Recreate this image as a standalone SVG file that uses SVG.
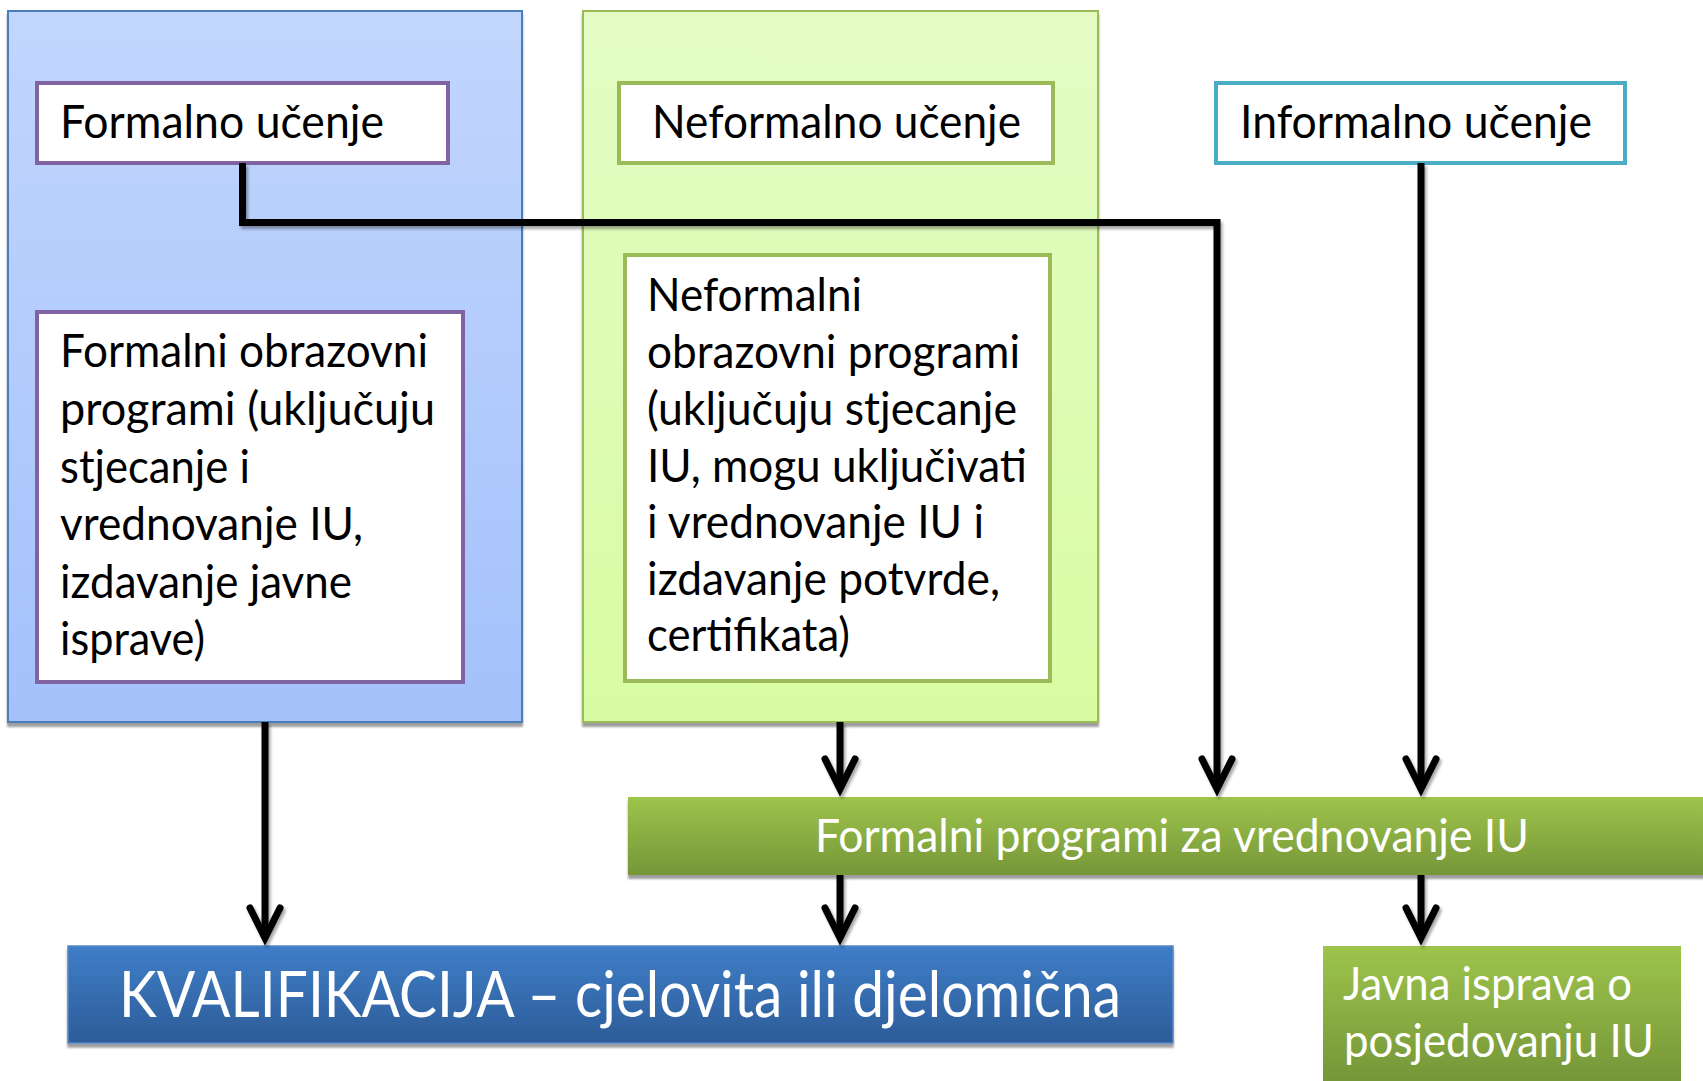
<svg xmlns="http://www.w3.org/2000/svg" width="1703" height="1081" viewBox="0 0 1703 1081">
  <defs>
    <linearGradient id="gBluePanel" x1="0" y1="0" x2="0" y2="1">
      <stop offset="0" stop-color="#C2D6FD"/>
      <stop offset="1" stop-color="#A3C1FB"/>
    </linearGradient>
    <linearGradient id="gGreenPanel" x1="0" y1="0" x2="0" y2="1">
      <stop offset="0" stop-color="#E4FCC4"/>
      <stop offset="1" stop-color="#D8FCA2"/>
    </linearGradient>
    <linearGradient id="gGreenBar" x1="0" y1="0" x2="0" y2="1">
      <stop offset="0" stop-color="#9DC44C"/>
      <stop offset="1" stop-color="#769638"/>
    </linearGradient>
    <linearGradient id="gGreenBox" x1="0" y1="946" x2="0" y2="1081" gradientUnits="userSpaceOnUse">
      <stop offset="0" stop-color="#9DC44C"/>
      <stop offset="1" stop-color="#769638"/>
    </linearGradient>
    <linearGradient id="gBlueBar" x1="0" y1="0" x2="0" y2="1">
      <stop offset="0" stop-color="#3F7EC8"/>
      <stop offset="1" stop-color="#2D5C98"/>
    </linearGradient>
    <filter id="boxShadow" x="-5%" y="-5%" width="110%" height="120%">
      <feDropShadow dx="0" dy="4" stdDeviation="1" flood-color="#000" flood-opacity="0.38"/>
    </filter>
    <filter id="lineShadow" x="-20%" y="-5%" width="140%" height="115%">
      <feDropShadow dx="2" dy="3" stdDeviation="1.5" flood-color="#000" flood-opacity="0.35"/>
    </filter>
    <marker id="arrow" markerUnits="userSpaceOnUse" orient="auto" refX="0" refY="0" markerWidth="60" markerHeight="60" overflow="visible">
      <path d="M-30,-15 L0,0 L-30,15" fill="none" stroke="#000" stroke-width="7" stroke-linecap="round" stroke-linejoin="miter" stroke-miterlimit="10"/>
    </marker>
  </defs>
  <style>
    .panel { stroke-width: 2; }
    .box { fill: #FFFFFF; stroke-width: 4; }
    .t { font-family: Lato, "Liberation Sans", sans-serif; font-size: 46px; fill: #000; }
    .tw { font-family: Lato, "Liberation Sans", sans-serif; font-size: 46px; fill: #FFFFFF; }
    .conn { fill: none; stroke: #000; stroke-width: 7; stroke-linejoin: miter; }
  </style>

  <rect width="1703" height="1081" fill="#FFFFFF"/>

  <g id="panel-formal">
    <rect class="panel" x="8" y="11" width="514" height="711" fill="url(#gBluePanel)" stroke="#4A7EBB" filter="url(#boxShadow)"/>
  </g>
  <g id="panel-neformal">
    <rect class="panel" x="583" y="11" width="515" height="711" fill="url(#gGreenPanel)" stroke="#9BBB59" filter="url(#boxShadow)"/>
  </g>

  <g id="formalno-ucenje">
    <rect class="box" x="37" y="83" width="411" height="80" stroke="#8064A2"/>
    <text class="t" x="60" y="138" textLength="324" lengthAdjust="spacingAndGlyphs">Formalno učenje</text>
  </g>

  <g id="neformalno-ucenje">
    <rect class="box" x="619" y="83" width="434" height="80" stroke="#9BBB59"/>
    <text class="t" x="652" y="138" textLength="369" lengthAdjust="spacingAndGlyphs">Neformalno učenje</text>
  </g>

  <g id="informalno-ucenje">
    <rect class="box" x="1216" y="83" width="409" height="80" stroke="#4BACC6"/>
    <text class="t" x="1240" y="138" textLength="352" lengthAdjust="spacingAndGlyphs">Informalno učenje</text>
  </g>

  <g id="formalni-programi">
    <rect class="box" x="37" y="312" width="426" height="370" stroke="#8064A2"/>
    <text class="t" x="60" y="367" textLength="368" lengthAdjust="spacingAndGlyphs">Formalni obrazovni</text>
    <text class="t" x="60" y="425" textLength="375" lengthAdjust="spacingAndGlyphs">programi (uključuju</text>
    <text class="t" x="60" y="483" textLength="190" lengthAdjust="spacingAndGlyphs">stjecanje i</text>
    <text class="t" x="60" y="540" textLength="303" lengthAdjust="spacingAndGlyphs">vrednovanje IU,</text>
    <text class="t" x="60" y="598" textLength="292" lengthAdjust="spacingAndGlyphs">izdavanje javne</text>
    <text class="t" x="60" y="655" textLength="145" lengthAdjust="spacingAndGlyphs">isprave)</text>
  </g>

  <g id="neformalni-programi">
    <rect class="box" x="625" y="255" width="425" height="426" stroke="#9BBB59"/>
    <text class="t" x="647" y="311" textLength="215" lengthAdjust="spacingAndGlyphs">Neformalni</text>
    <text class="t" x="647" y="368" textLength="373" lengthAdjust="spacingAndGlyphs">obrazovni programi</text>
    <text class="t" x="647" y="425" textLength="370" lengthAdjust="spacingAndGlyphs">(uključuju stjecanje</text>
    <text class="t" x="647" y="482" textLength="380" lengthAdjust="spacingAndGlyphs">IU, mogu uključivati</text>
    <text class="t" x="647" y="538" textLength="337" lengthAdjust="spacingAndGlyphs">i vrednovanje IU i</text>
    <text class="t" x="647" y="595" textLength="353" lengthAdjust="spacingAndGlyphs">izdavanje potvrde,</text>
    <text class="t" x="647" y="651" textLength="203" lengthAdjust="spacingAndGlyphs">certifikata)</text>
  </g>

  <g id="formalni-programi-vrednovanje">
    <rect x="628" y="797" width="1090" height="78" fill="url(#gGreenBar)" filter="url(#boxShadow)"/>
    <text class="tw" x="815" y="852" textLength="714" lengthAdjust="spacingAndGlyphs">Formalni programi za vrednovanje IU</text>
  </g>

  <g id="kvalifikacija">
    <rect x="68" y="946" width="1105" height="97" fill="url(#gBlueBar)" stroke="#5587C8" stroke-width="1.5" filter="url(#boxShadow)"/>
    <text class="tw" x="119" y="1017" font-size="63" style="font-size:63px" textLength="1002" lengthAdjust="spacingAndGlyphs">KVALIFIKACIJA – cjelovita ili djelomična</text>
  </g>

  <g id="javna-isprava">
    <rect x="1323" y="946" width="358" height="140" fill="url(#gGreenBox)"/>
    <text class="tw" x="1343" y="1000" textLength="289" lengthAdjust="spacingAndGlyphs">Javna isprava o</text>
    <text class="tw" x="1344" y="1057" textLength="310" lengthAdjust="spacingAndGlyphs">posjedovanju IU</text>
  </g>

  <g id="connectors" filter="url(#lineShadow)">
    <path class="conn" d="M242.5,163 V222.5 H1217 V789" marker-end="url(#arrow)"/>
    <path class="conn" d="M1421,163 V789" marker-end="url(#arrow)"/>
    <path class="conn" d="M840,722 V789" marker-end="url(#arrow)"/>
    <path class="conn" d="M265,722 V938" marker-end="url(#arrow)"/>
    <path class="conn" d="M840,875 V938" marker-end="url(#arrow)"/>
    <path class="conn" d="M1421,875 V938" marker-end="url(#arrow)"/>
  </g>
</svg>
